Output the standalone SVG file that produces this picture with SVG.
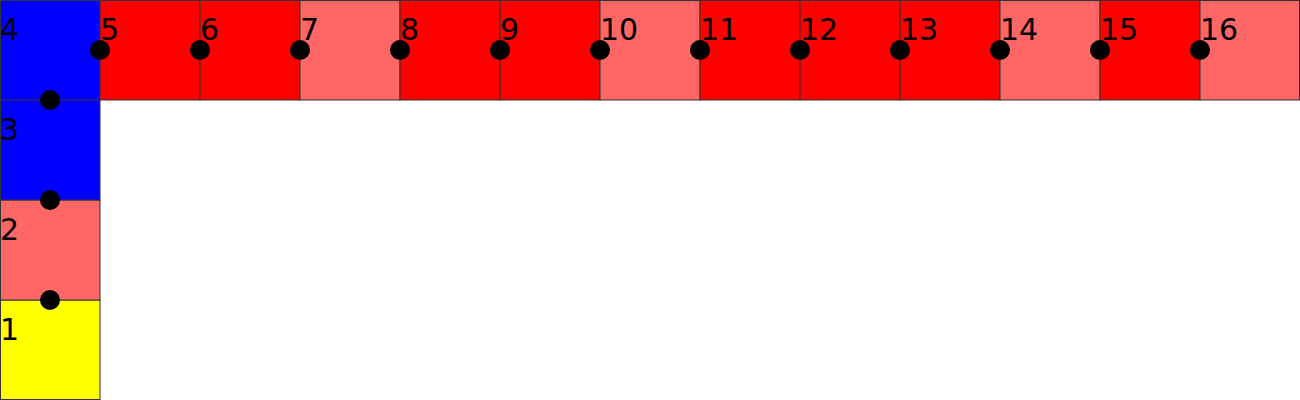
<svg xmlns="http://www.w3.org/2000/svg" width="1300" height="400" viewBox="0 0 1300 400">
<style>
rect{stroke:#333;stroke-width:1}
.r{fill:#ff0000}.l{fill:#ff6666}.b{fill:#0000ff}.y{fill:#ffff00}
text{font-family:"DejaVu Sans",sans-serif;font-size:30px;fill:#000}
circle{fill:#000}
</style>
<rect width="1300" height="400" fill="#fff" style="stroke:none"/>
<g id="n1"><rect class="y" x="0.5" y="300" width="99.5" height="99.5"/><text x="0" y="340">1</text></g>
<g id="n2"><rect class="l" x="0.5" y="200" width="99.5" height="100"/><text x="0" y="240">2</text></g>
<g id="n3"><rect class="b" x="0.5" y="100" width="99.5" height="100"/><text x="0" y="140">3</text></g>
<g id="n4"><rect class="b" x="0.5" y="0.5" width="99.5" height="99.5"/><text x="0" y="40">4</text></g>
<g id="n5"><rect class="r" x="100" y="0.5" width="100" height="99.5"/><text x="100" y="40">5</text></g>
<g id="n6"><rect class="r" x="200" y="0.5" width="100" height="99.5"/><text x="200" y="40">6</text></g>
<g id="n7"><rect class="l" x="300" y="0.5" width="100" height="99.5"/><text x="300" y="40">7</text></g>
<g id="n8"><rect class="r" x="400" y="0.5" width="100" height="99.5"/><text x="400" y="40">8</text></g>
<g id="n9"><rect class="r" x="500" y="0.5" width="100" height="99.5"/><text x="500" y="40">9</text></g>
<g id="n10"><rect class="l" x="600" y="0.5" width="100" height="99.5"/><text x="600" y="40">10</text></g>
<g id="n11"><rect class="r" x="700" y="0.5" width="100" height="99.5"/><text x="700" y="40">11</text></g>
<g id="n12"><rect class="r" x="800" y="0.5" width="100" height="99.5"/><text x="800" y="40">12</text></g>
<g id="n13"><rect class="r" x="900" y="0.5" width="100" height="99.5"/><text x="900" y="40">13</text></g>
<g id="n14"><rect class="l" x="1000" y="0.5" width="100" height="99.5"/><text x="1000" y="40">14</text></g>
<g id="n15"><rect class="r" x="1100" y="0.5" width="100" height="99.5"/><text x="1100" y="40">15</text></g>
<g id="n16"><rect class="l" x="1200" y="0.5" width="99.5" height="99.5"/><text x="1200" y="40">16</text></g>
<g id="connectors">
<circle cx="50" cy="300" r="10"/><circle cx="50" cy="200" r="10"/><circle cx="50" cy="100" r="10"/>
<circle cx="100" cy="50" r="10"/><circle cx="200" cy="50" r="10"/><circle cx="300" cy="50" r="10"/><circle cx="400" cy="50" r="10"/>
<circle cx="500" cy="50" r="10"/><circle cx="600" cy="50" r="10"/><circle cx="700" cy="50" r="10"/><circle cx="800" cy="50" r="10"/>
<circle cx="900" cy="50" r="10"/><circle cx="1000" cy="50" r="10"/><circle cx="1100" cy="50" r="10"/><circle cx="1200" cy="50" r="10"/>
</g>
</svg>
